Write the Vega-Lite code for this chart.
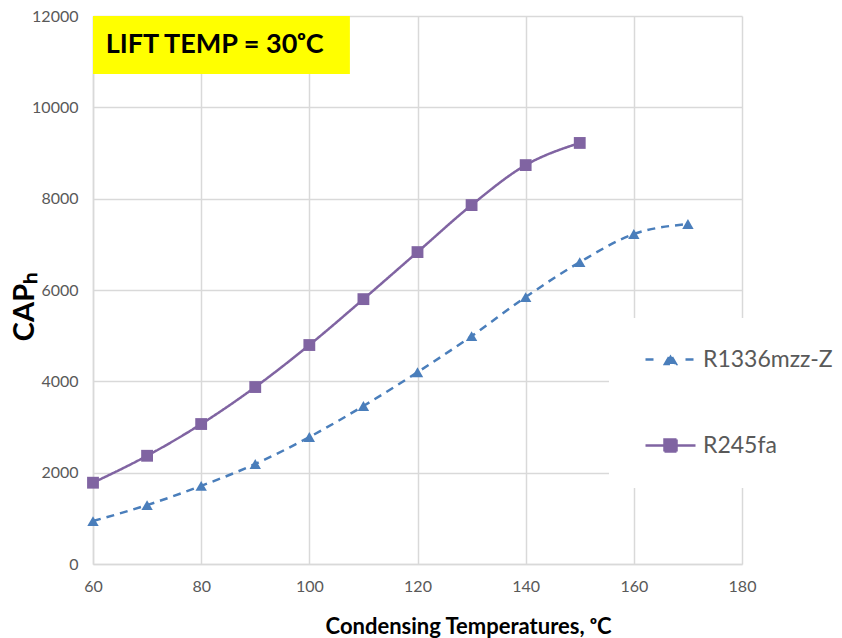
{
  "$schema": "https://vega.github.io/schema/vega-lite/v6.json",
  "width": 649,
  "height": 548,
  "autosize": {"type": "none"},
  "padding": {"left": 93, "top": 16, "right": 100, "bottom": 74},
  "background": "white",
  "config": {
    "font": "Lato",
    "view": {"stroke": null},
    "axis": {
      "gridColor": "#d9d9d9",
      "gridWidth": 1.5,
      "domainColor": "#d9d9d9",
      "domainWidth": 1.5,
      "ticks": false,
      "labelFlush": false,
      "labelColor": "#595959",
      "labelFont": "Lato",
      "labelFontSize": 16,
      "titleFont": "Lato",
      "titleColor": "#000000",
      "titleFontWeight": "bold"
    }
  },
  "datasets": {
    "cap": [
      {"series": "R245fa", "temp": 60, "cap": 1780},
      {"series": "R245fa", "temp": 70, "cap": 2370},
      {"series": "R245fa", "temp": 80, "cap": 3065},
      {"series": "R245fa", "temp": 90, "cap": 3875},
      {"series": "R245fa", "temp": 100, "cap": 4795},
      {"series": "R245fa", "temp": 110, "cap": 5800},
      {"series": "R245fa", "temp": 120, "cap": 6830},
      {"series": "R245fa", "temp": 130, "cap": 7860},
      {"series": "R245fa", "temp": 140, "cap": 8735},
      {"series": "R245fa", "temp": 150, "cap": 9220},
      {"series": "R1336mzz-Z", "temp": 60, "cap": 940},
      {"series": "R1336mzz-Z", "temp": 70, "cap": 1290},
      {"series": "R1336mzz-Z", "temp": 80, "cap": 1710},
      {"series": "R1336mzz-Z", "temp": 90, "cap": 2190},
      {"series": "R1336mzz-Z", "temp": 100, "cap": 2780},
      {"series": "R1336mzz-Z", "temp": 110, "cap": 3460},
      {"series": "R1336mzz-Z", "temp": 120, "cap": 4200},
      {"series": "R1336mzz-Z", "temp": 130, "cap": 4990},
      {"series": "R1336mzz-Z", "temp": 140, "cap": 5845},
      {"series": "R1336mzz-Z", "temp": 150, "cap": 6610},
      {"series": "R1336mzz-Z", "temp": 160, "cap": 7225},
      {"series": "R1336mzz-Z", "temp": 170, "cap": 7445}
    ],
    "note": [
      {"label": "LIFT TEMP = 30ᵒC", "x0": 60, "x1": 107.5, "xm": 82.5, "y0": 12000, "y1": 10730, "ym": 11360}
    ]
  },
  "layer": [
    {
      "data": {"name": "cap"},
      "mark": {"type": "line", "interpolate": "monotone", "strokeWidth": 2.5},
      "encoding": {
        "x": {
          "field": "temp",
          "type": "quantitative",
          "scale": {"domain": [60, 180], "nice": false, "zero": false},
          "axis": {
            "values": [60, 80, 100, 120, 140, 160, 180],
            "labelPadding": 14,
            "title": "Condensing Temperatures, ᵒC",
            "titleFontSize": 22,
            "titleX": 375,
            "titleY": 69,
            "titleAlign": "center",
            "titleBaseline": "alphabetic",
            "titleAnchor": null
          }
        },
        "y": {
          "field": "cap",
          "type": "quantitative",
          "scale": {"domain": [0, 12000], "nice": false},
          "axis": {
            "values": [0, 2000, 4000, 6000, 8000, 10000, 12000],
            "format": "d",
            "labelPadding": 15,
            "title": "CAPₕ",
            "titleFontSize": 29,
            "titleX": -60,
            "titleY": 290,
            "titleAlign": "center",
            "titleBaseline": "alphabetic",
            "titleAngle": 270,
            "titleAnchor": null
          }
        },
        "color": {
          "field": "series",
          "type": "nominal",
          "scale": {"domain": ["R1336mzz-Z", "R245fa"], "range": ["#4a7ebb", "#8064a2"]},
          "legend": {
            "orient": "none",
            "legendX": 516,
            "legendY": 302,
            "title": null,
            "fillColor": "white",
            "padding": 30,
            "symbolSize": 400,
            "symbolOffset": 20,
            "labelOffset": 21,
            "labelFontSize": 23,
            "labelColor": "#595959",
            "labelFont": "Lato",
            "rowPadding": 62,
            "symbolStrokeWidth": 2.5,
            "encode": {
              "symbols": {
                "update": {
                  "shape": [
                    {"test": "datum.value === 'R1336mzz-Z'", "value": "M-2.5,0H-1.5M1.5,0H2.5M-0.55,0.45L0,-0.5L0.55,0.45Z"},
                    {"value": "M-2.5,0H2.5M-0.6,-0.6H0.6V0.6H-0.6Z"}
                  ],
                  "fill": [
                    {"test": "datum.value === 'R1336mzz-Z'", "value": "#4a7ebb"},
                    {"value": "#8064a2"}
                  ],
                  "stroke": [
                    {"test": "datum.value === 'R1336mzz-Z'", "value": "#4a7ebb"},
                    {"value": "#8064a2"}
                  ],
                  "strokeDash": {"value": []},
                  "opacity": {"value": 1},
                  "fillOpacity": {"value": 1}
                }
              }
            }
          }
        },
        "strokeDash": {
          "field": "series",
          "type": "nominal",
          "scale": {"domain": ["R1336mzz-Z", "R245fa"], "range": [[8, 6], [1, 0]]},
          "legend": null
        }
      }
    },
    {
      "data": {"name": "cap"},
      "transform": [{"filter": "datum.series === 'R1336mzz-Z'"}],
      "mark": {"type": "point", "filled": true, "opacity": 1, "shape": "triangle-up", "size": 130, "color": "#4a7ebb"},
      "encoding": {
        "x": {"field": "temp", "type": "quantitative"},
        "y": {"field": "cap", "type": "quantitative"}
      }
    },
    {
      "data": {"name": "cap"},
      "transform": [{"filter": "datum.series === 'R245fa'"}],
      "mark": {"type": "point", "filled": true, "opacity": 1, "shape": "square", "size": 140, "color": "#8064a2"},
      "encoding": {
        "x": {"field": "temp", "type": "quantitative"},
        "y": {"field": "cap", "type": "quantitative"}
      }
    },
    {
      "data": {"name": "note"},
      "mark": {"type": "rect", "color": "#ffff00"},
      "encoding": {
        "x": {"field": "x0", "type": "quantitative"},
        "x2": {"field": "x1"},
        "y": {"field": "y0", "type": "quantitative"},
        "y2": {"field": "y1"}
      }
    },
    {
      "data": {"name": "note"},
      "mark": {"type": "text", "fontSize": 27, "fontWeight": "bold", "color": "#000000", "align": "center", "baseline": "middle", "font": "Lato"},
      "encoding": {
        "x": {"field": "xm", "type": "quantitative"},
        "y": {"field": "ym", "type": "quantitative"},
        "text": {"field": "label"}
      }
    }
  ]
}
